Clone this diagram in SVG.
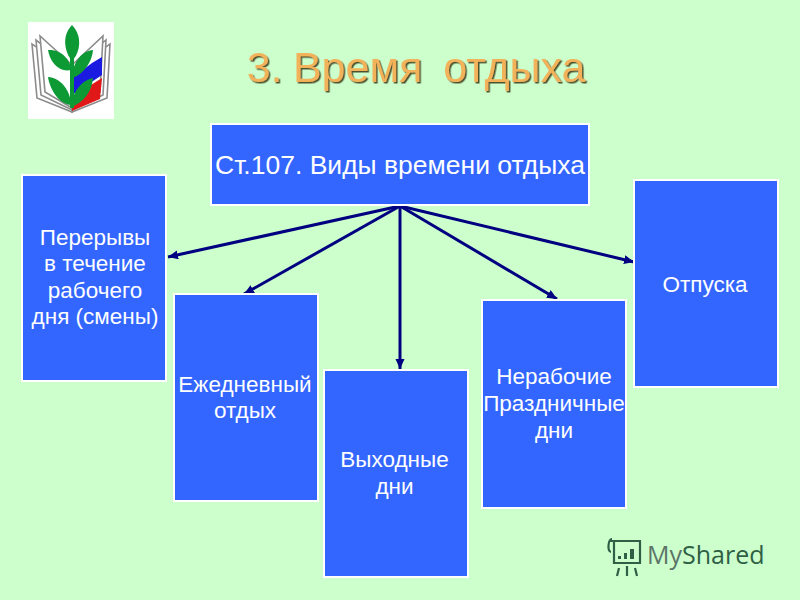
<svg xmlns="http://www.w3.org/2000/svg" width="800" height="600" viewBox="0 0 800 600">
<style>
text{font-family:"Liberation Sans",Arial,sans-serif}
.box{fill:#3366ff;stroke:#fff;stroke-width:2}
.lbl{fill:#fff;font-size:22.500px;text-anchor:middle}
.conn{stroke:#000080;stroke-width:3;fill:none;marker-end:url(#a)}
.page{fill:#fff;stroke:#8c8c8c;stroke-width:1.6}
.leaf{fill:#0d9a35}
.t{font-size:43px;text-anchor:middle;fill:#f2b25a;filter:url(#s);word-spacing:-1.500px}
</style>
<defs>
<marker id="a" markerUnits="userSpaceOnUse" markerWidth="12" markerHeight="10" refX="10" refY="4.5" orient="auto"><path d="M0 0L10 4.500L0 9z" fill="#000080"/></marker>
<filter id="s" x="-5%" y="-20%" width="110%" height="140%"><feDropShadow dx="1.500" dy="1.500" stdDeviation="0.500" flood-color="#3d3d1c" flood-opacity=".9"/></filter>
</defs>
<rect width="800" height="600" fill="#ccffcc"/>
<g id="logo">
<rect x="28" y="22" width="86" height="97" fill="#fff"/>
<path class="page" d="M32 44L37 98L72 112L72 70z"/>
<path class="page" d="M36 40L41 95L72 110L72 68z"/>
<path class="page" d="M40 36L45 92L72 108L72 65z"/>
<path class="page" d="M110 44L107 98L72 112L72 70z"/>
<path class="page" d="M106 40L103 95L72 110L72 68z"/>
<path class="page" d="M103 36L100 92L72 108L72 65z"/>
<path d="M72 78L92 63L102 57V75L72 95z" fill="#1a1ae0"/>
<path d="M72 97L102 78L100 99L72 111z" fill="#e01818"/>
<path class="leaf" d="M72 25C61 36 65 53 72 61C80 53 83 36 72 25z"/>
<path class="leaf" d="M48 50C61 49 71 60 71 70C59 73 50 62 48 50z"/>
<path class="leaf" d="M93 50C81 51 72 64 72 78C84 74 92 62 93 50z"/>
<path class="leaf" d="M48 77C60 77 71 91 71 105C59 104 50 90 48 77z"/>
<path class="leaf" d="M93 78C82 80 72 92 71 107C83 103 92 92 93 78z"/>
<path class="leaf" d="M70 58h4v50h-4z"/>
</g>
<g id="title">
<text class="t" x="416" y="82" xml:space="preserve">3. Время  отдыха</text>
</g>
<g id="connectors">
<path class="conn" d="M400 206L168 257"/>
<path class="conn" d="M400 206L244 294"/>
<path class="conn" d="M400 206V369"/>
<path class="conn" d="M400 206L557 299"/>
<path class="conn" d="M400 206L634 262"/>
</g>
<g id="node-main"><rect class="box" x="211" y="124" width="378" height="81"/><text x="400" y="174" fill="#fff" font-size="26.500" text-anchor="middle">Ст.107. Виды времени отдыха</text></g>
<g id="node-breaks"><rect class="box" x="22" y="175" width="144" height="206"/><text class="lbl" x="95" y="245">Перерывы</text><text class="lbl" x="95" y="271">в течение</text><text class="lbl" x="95" y="298">рабочего</text><text class="lbl" x="95" y="324">дня (смены)</text></g>
<g id="node-daily"><rect class="box" x="174" y="294" width="144" height="207"/><text class="lbl" x="245" y="392">Ежедневный</text><text class="lbl" x="245" y="418">отдых</text></g>
<g id="node-weekend"><rect class="box" x="324" y="370" width="144" height="207"/><text class="lbl" x="394.500" y="467">Выходные</text><text class="lbl" x="394.500" y="494">дни</text></g>
<g id="node-holidays"><rect class="box" x="482" y="300" width="144" height="208"/><text class="lbl" x="554" y="384">Нерабочие</text><text class="lbl" x="554" y="411">Праздничные</text><text class="lbl" x="554" y="438">дни</text></g>
<g id="node-vacation"><rect class="box" x="634" y="180" width="144" height="207"/><text class="lbl" x="705" y="292">Отпуска</text></g>
<g id="watermark">
<g fill="none" stroke="#2f5f45" stroke-width="2.200"><path d="M610 541h31M614 541v22h26v-22M611 552c-4 0-3-13 1-13M619 568l-2 8M627 566v10M635 568l2 8"/></g>
<g fill="#2f5f45"><rect x="618" y="556" width="3" height="3"/><rect x="624" y="553" width="3" height="6"/><rect x="630" y="549" width="4" height="10"/></g>
<text x="647" y="564" font-size="25" fill="#2f5f45" style="font-family:'Open Sans',sans-serif"><tspan fill="#5c7468">My</tspan>Shared</text>
</g>
</svg>
